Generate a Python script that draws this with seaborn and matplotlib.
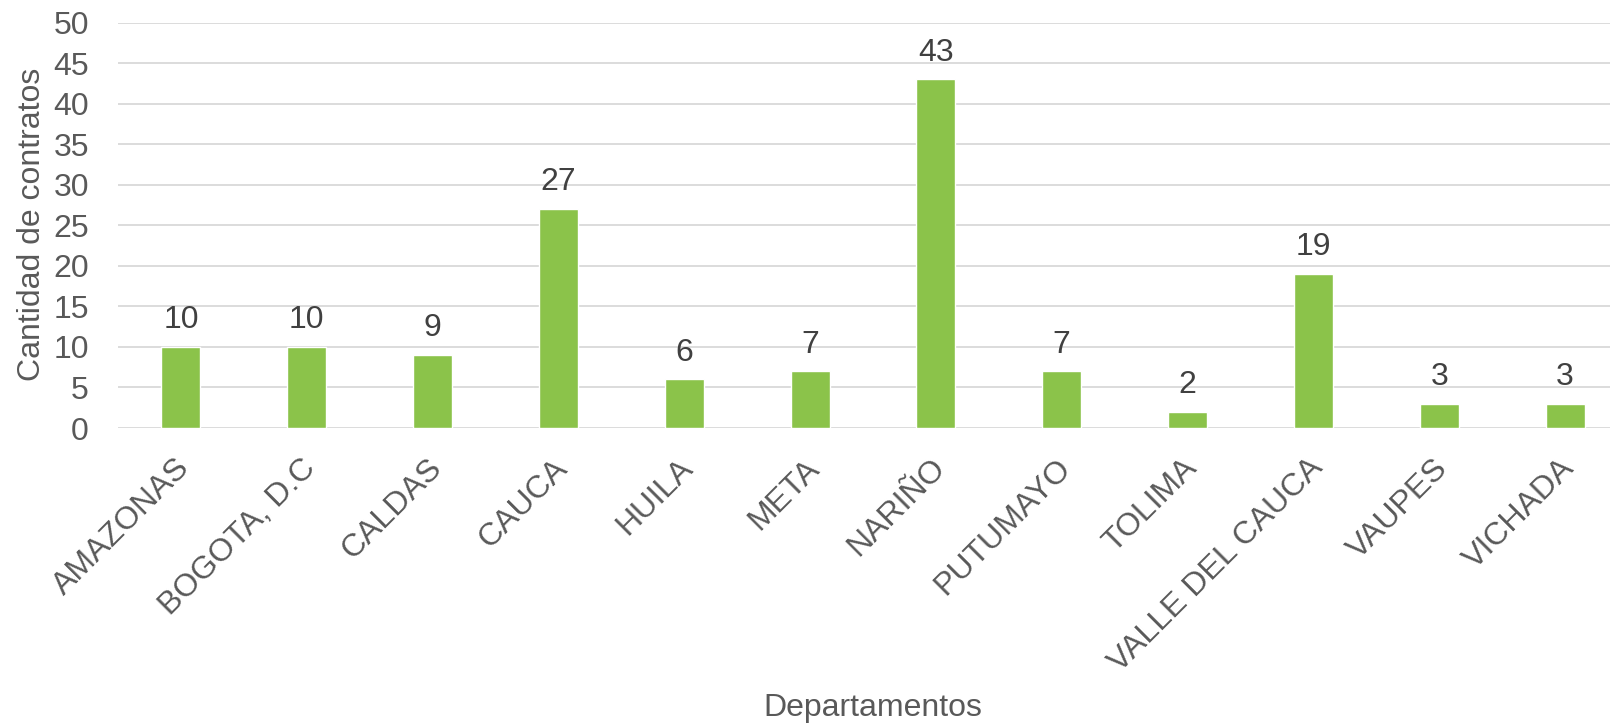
import pandas as pd
import seaborn as sns
import matplotlib.pyplot as plt
from matplotlib.transforms import ScaledTranslation

# Data
departamentos = ['AMAZONAS', 'BOGOTA, D.C', 'CALDAS', 'CAUCA', 'HUILA', 'META',
                 'NARIÑO', 'PUTUMAYO', 'TOLIMA', 'VALLE DEL CAUCA', 'VAUPES', 'VICHADA']
contratos = [10, 10, 9, 27, 6, 7, 43, 7, 2, 19, 3, 3]

df = pd.DataFrame({'Departamento': departamentos, 'Contratos': contratos})

sns.set_style('white')
plt.rcParams['font.family'] = ['Liberation Sans', 'DejaVu Sans']
fs = 23

fig = plt.figure(figsize=(16.1, 7.25), dpi=100)
ax = fig.add_axes([118 / 1610, 1 - 428 / 725, 1510 / 1610, (428 - 22.5) / 725])

sns.barplot(data=df, x='Departamento', y='Contratos', color='#8BC34A',
            width=0.31, saturation=1, ax=ax, zorder=3)

ax.set_ylim(0, 50)
ax.set_yticks(range(0, 51, 5))
ax.grid(axis='y', color='#D9D9D9', linewidth=1.3, zorder=0)
ax.set_axisbelow(True)
for s in ax.spines.values():
    s.set_visible(False)
ax.tick_params(length=0, labelsize=fs, labelcolor='#595959')
ax.tick_params(axis='y', pad=21)
ax.tick_params(axis='x', pad=18)
shift = ScaledTranslation(-6 / 100, 0, fig.dpi_scale_trans)
for lab in ax.get_xticklabels():
    lab.set_rotation(45)
    lab.set_ha('right')
    lab.set_va('top')
    lab.set_rotation_mode('anchor')
    lab.set_transform(lab.get_transform() + shift)

for i, v in enumerate(contratos):
    ax.text(i, v + 2.3, str(v), ha='center', va='baseline', fontsize=fs, color='#404040')

ax.set_xlabel('Departamentos', fontsize=fs, color='#595959')
ax.xaxis.set_label_coords((873 - 118) / 1510, (428 - 708) / (428 - 22.5))
ax.xaxis.label.set_va('center')
ax.set_ylabel('Cantidad de contratos', fontsize=fs, color='#595959')
ax.yaxis.set_label_coords((32 - 118) / 1510, (428 - 224) / (428 - 22.5))
ax.yaxis.label.set_va('center')

fig.savefig('out.png', dpi=100)
